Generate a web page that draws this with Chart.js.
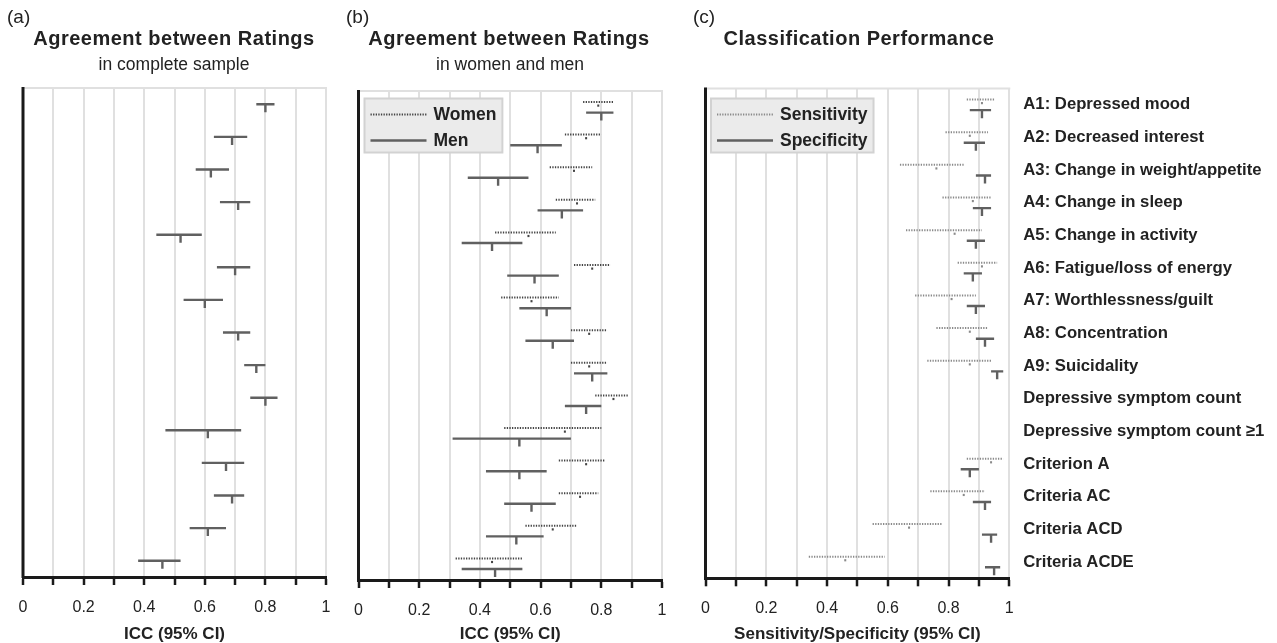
<!DOCTYPE html>
<html lang="en">
<head>
  <meta charset="UTF-8">
  <meta name="viewport" content="width=device-width, initial-scale=1.0">
  <title>Agreement between Ratings / Classification Performance</title>
  <script src="https://cdn.jsdelivr.net/npm/chart.js"></script>
  <style>
    body {
      margin: 0;
      background: #fff;
      font-family: "Liberation Sans", Arial, sans-serif;
      color: #222;
    }
    #page {
      position: relative;
      width: 1277px;
      height: 643px;
      overflow: hidden;
    }
    canvas {
      position: absolute;
      top: 0;
    }
    .tag {
      position: absolute;
      top: 6px;
      font-size: 19px;
    }
    .title {
      position: absolute;
      width: 400px;
      text-align: center;
      font-weight: bold;
      font-size: 20px;
      letter-spacing: 0.5px;
      top: 27px;
    }
    .sub {
      position: absolute;
      width: 400px;
      text-align: center;
      font-size: 17.5px;
      top: 54px;
    }
  </style>
</head>
<body>
  <div id="page">
    <canvas id="chartA" width="350" height="643" style="left:0px"></canvas>
    <canvas id="chartB" width="350" height="643" style="left:340px"></canvas>
    <canvas id="chartC" width="597" height="643" style="left:680px"></canvas>

    <div class="tag" style="left:7px">(a)</div>
    <div class="title" style="left:-26px">Agreement between Ratings</div>
    <div class="sub" style="left:-26px">in complete sample</div>

    <div class="tag" style="left:346px">(b)</div>
    <div class="title" style="left:309px">Agreement between Ratings</div>
    <div class="sub" style="left:310px">in women and men</div>

    <div class="tag" style="left:693px">(c)</div>
    <div class="title" style="left:659px">Classification Performance</div>
  </div>
  <script>
    const categories = [
      'A1: Depressed mood', 'A2: Decreased interest', 'A3: Change in weight/appetite',
      'A4: Change in sleep', 'A5: Change in activity', 'A6: Fatigue/loss of energy',
      'A7: Worthlessness/guilt', 'A8: Concentration', 'A9: Suicidality',
      'Depressive symptom count', 'Depressive symptom count ≥1', 'Criterion A',
      'Criteria AC', 'Criteria ACD', 'Criteria ACDE'
    ];
    const tickLabels = ['0', '', '0.2', '', '0.4', '', '0.6', '', '0.8', '', '1'];

    // [lower, estimate, upper]
    const iccAll = [
      [0.77, 0.80, 0.83], [0.63, 0.69, 0.74], [0.57, 0.62, 0.68], [0.65, 0.71, 0.75],
      [0.44, 0.52, 0.59], [0.64, 0.70, 0.75], [0.53, 0.60, 0.66], [0.66, 0.71, 0.75],
      [0.73, 0.77, 0.80], [0.75, 0.80, 0.84], [0.47, 0.61, 0.72], [0.59, 0.67, 0.73],
      [0.63, 0.69, 0.73], [0.55, 0.61, 0.67], [0.38, 0.46, 0.52]
    ];
    const iccWomen = [
      [0.74, 0.79, 0.84], [0.68, 0.75, 0.80], [0.63, 0.71, 0.77], [0.65, 0.72, 0.78],
      [0.45, 0.56, 0.65], [0.71, 0.77, 0.83], [0.47, 0.57, 0.66], [0.70, 0.76, 0.82],
      [0.70, 0.76, 0.82], [0.78, 0.84, 0.89], [0.48, 0.68, 0.80], [0.66, 0.75, 0.81],
      [0.66, 0.73, 0.79], [0.55, 0.64, 0.72], [0.32, 0.44, 0.54]
    ];
    const iccMen = [
      [0.75, 0.80, 0.84], [0.50, 0.59, 0.67], [0.36, 0.46, 0.56], [0.59, 0.67, 0.74],
      [0.34, 0.44, 0.54], [0.49, 0.58, 0.66], [0.53, 0.62, 0.70], [0.55, 0.64, 0.71],
      [0.71, 0.77, 0.82], [0.68, 0.75, 0.80], [0.31, 0.53, 0.70], [0.42, 0.53, 0.62],
      [0.48, 0.57, 0.65], [0.42, 0.52, 0.61], [0.34, 0.45, 0.54]
    ];
    const sensitivity = [
      [0.86, 0.91, 0.95], [0.79, 0.87, 0.93], [0.64, 0.76, 0.85], [0.78, 0.88, 0.94],
      [0.66, 0.82, 0.91], [0.83, 0.91, 0.96], [0.69, 0.81, 0.89], [0.76, 0.87, 0.93],
      [0.73, 0.87, 0.94], null, null, [0.86, 0.94, 0.98],
      [0.74, 0.85, 0.92], [0.55, 0.67, 0.78], [0.34, 0.46, 0.59]
    ];
    const specificity = [
      [0.87, 0.91, 0.94], [0.85, 0.89, 0.92], [0.89, 0.92, 0.94], [0.88, 0.91, 0.94],
      [0.86, 0.89, 0.92], [0.85, 0.88, 0.91], [0.86, 0.89, 0.92], [0.89, 0.92, 0.95],
      [0.94, 0.96, 0.98], null, null, [0.84, 0.87, 0.90],
      [0.88, 0.92, 0.94], [0.91, 0.94, 0.96], [0.92, 0.95, 0.97]
    ];

    const FONT = '"Liberation Sans", Arial, sans-serif';
    const SOLID = '#606060';

    // draws each interval as a line with a small downward mark at the estimate
    const ciMarks = {
      id: 'ciMarks',
      afterDatasetsDraw(chart) {
        const ctx = chart.ctx;
        const x = chart.scales.x;
        chart.data.datasets.forEach((ds, di) => {
          const meta = chart.getDatasetMeta(di);
          meta.data.forEach((bar, i) => {
            const row = ds.ci[i];
            if (!row) return;
            const y = bar.y;
            const x0 = x.getPixelForValue(row[0]);
            const xe = x.getPixelForValue(row[1]);
            const x1 = x.getPixelForValue(row[2]);
            ctx.save();
            ctx.strokeStyle = ds.markColor;
            ctx.fillStyle = ds.markColor;
            if (ds.dotted) {
              ctx.lineWidth = 2;
              ctx.setLineDash([1.3, 1.3]);
              ctx.beginPath();
              ctx.moveTo(x0, y);
              ctx.lineTo(x1, y);
              ctx.stroke();
              ctx.fillRect(xe - 1, y + 2.5, 2, 2.2);
            } else {
              ctx.lineWidth = 2.4;
              ctx.beginPath();
              ctx.moveTo(x0, y);
              ctx.lineTo(x1, y);
              ctx.moveTo(xe, y);
              ctx.lineTo(xe, y + 8);
              ctx.stroke();
            }
            ctx.restore();
          });
        });
      }
    };

    // top grey border and thick left axis line
    const frame = {
      id: 'frame',
      afterDraw(chart) {
        const ctx = chart.ctx;
        const a = chart.chartArea;
        ctx.save();
        ctx.strokeStyle = '#e0e0e0';
        ctx.lineWidth = 2;
        ctx.beginPath();
        ctx.moveTo(a.left, a.top);
        ctx.lineTo(a.right + 1, a.top);
        ctx.stroke();
        ctx.strokeStyle = '#1a1a1a';
        ctx.lineWidth = 3;
        ctx.beginPath();
        ctx.moveTo(a.left, a.top - 1);
        ctx.lineTo(a.left, a.bottom + 1);
        ctx.stroke();
        ctx.restore();
      }
    };

    // boxed legend inside the plot, top left
    const boxLegend = {
      id: 'boxLegend',
      afterDraw(chart, args, opts) {
        if (!opts.show) return;
        const ctx = chart.ctx;
        const a = chart.chartArea;
        const sets = chart.data.datasets;
        ctx.save();
        ctx.font = 'bold 17.5px ' + FONT;
        const textW = Math.max(...sets.map(d => ctx.measureText(d.label).width));
        const bx = a.left + opts.dx;
        const by = a.top + opts.dy;
        const bw = 6 + 56 + 7 + textW + 6;
        const bh = 54;
        ctx.fillStyle = '#ebebeb';
        ctx.fillRect(bx, by, bw, bh);
        ctx.strokeStyle = '#d2d2d2';
        ctx.lineWidth = 2;
        ctx.strokeRect(bx, by, bw, bh);
        sets.forEach((d, i) => {
          const ly = by + 16 + i * 26;
          ctx.strokeStyle = d.markColor;
          if (d.dotted) {
            ctx.lineWidth = 2;
            ctx.setLineDash([1.3, 1.3]);
          } else {
            ctx.lineWidth = 2.4;
            ctx.setLineDash([]);
          }
          ctx.beginPath();
          ctx.moveTo(bx + 6, ly);
          ctx.lineTo(bx + 62, ly);
          ctx.stroke();
          ctx.setLineDash([]);
          ctx.fillStyle = '#222';
          ctx.textBaseline = 'middle';
          ctx.fillText(d.label, bx + 69, ly + 1);
        });
        ctx.restore();
      }
    };

    function panel(id, datasets, opt) {
      const ctx = document.getElementById(id).getContext('2d');
      return new Chart(ctx, {
        type: 'bar',
        data: {
          labels: categories,
          datasets: datasets.map(d => ({
            label: d.label,
            data: d.ci.map(r => r ? [r[0], r[2]] : null),
            ci: d.ci,
            dotted: d.dotted,
            markColor: d.color,
            backgroundColor: 'rgba(0,0,0,0)',
            borderWidth: 0,
            categoryPercentage: datasets.length > 1 ? 0.65 : 0.8,
            barPercentage: 1
          }))
        },
        options: {
          responsive: false,
          animation: false,
          events: [],
          indexAxis: 'y',
          layout: { padding: opt.padding },
          scales: {
            x: {
              type: 'linear',
              min: 0,
              max: 1,
              afterFit(scale) { scale.height = opt.xHeight; },
              ticks: {
                stepSize: 0.1,
                autoSkip: false,
                maxRotation: 0,
                padding: 13,
                color: '#222',
                font: { family: FONT, size: 16 },
                callback: (v, i) => tickLabels[i]
              },
              grid: {
                color: '#e0e0e0',
                lineWidth: 2,
                tickColor: '#1a1a1a',
                tickWidth: 2.5,
                tickLength: 8
              },
              border: { color: '#1a1a1a', width: 3 },
              title: {
                display: true,
                text: opt.xTitle,
                color: '#222',
                padding: { top: 0, bottom: 0 },
                font: { family: FONT, size: 17, weight: 'bold', lineHeight: 1.05 }
              }
            },
            y: {
              type: 'category',
              display: opt.showLabels,
              position: 'right',
              afterFit(scale) { if (opt.showLabels) scale.width = opt.yWidth; },
              grid: { display: false, drawTicks: false },
              border: { display: false },
              ticks: {
                padding: 14,
                crossAlign: 'near',
                color: '#222',
                font: { family: FONT, size: 16.7, weight: 'bold' }
              }
            }
          },
          plugins: {
            legend: { display: false },
            tooltip: { enabled: false },
            boxLegend: { show: datasets.length > 1, dx: opt.legendDx, dy: opt.legendDy }
          }
        },
        plugins: [ciMarks, frame, boxLegend]
      });
    }

    panel('chartA', [
      { label: 'ICC', ci: iccAll, dotted: false, color: SOLID }
    ], {
      padding: { left: 23, right: 24, top: 88, bottom: 0 },
      xHeight: 66, xTitle: 'ICC (95% CI)', showLabels: false
    });

    panel('chartB', [
      { label: 'Women', ci: iccWomen, dotted: true, color: '#444' },
      { label: 'Men', ci: iccMen, dotted: false, color: SOLID }
    ], {
      padding: { left: 18.5, right: 28, top: 91, bottom: 0 },
      xHeight: 63, xTitle: 'ICC (95% CI)', showLabels: false,
      legendDx: 6, legendDy: 7.5
    });

    panel('chartC', [
      { label: 'Sensitivity', ci: sensitivity, dotted: true, color: '#8a8a8a' },
      { label: 'Specificity', ci: specificity, dotted: false, color: SOLID }
    ], {
      padding: { left: 25.5, right: 0, top: 88.5, bottom: 0 },
      xHeight: 64.7, yWidth: 267.7, xTitle: 'Sensitivity/Specificity (95% CI)', showLabels: true,
      legendDx: 5.5, legendDy: 10
    });
  </script>
</body>
</html>
